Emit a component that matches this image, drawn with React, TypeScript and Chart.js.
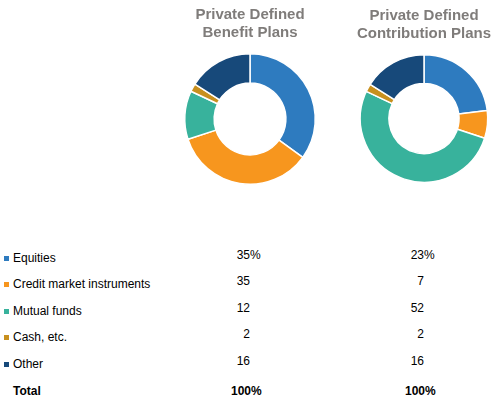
import { useEffect, useRef } from 'react';
import { Chart, registerables } from 'chart.js';

Chart.register(...registerables);

const categories = ['Equities', 'Credit market instruments', 'Mutual funds', 'Cash, etc.', 'Other'];
const benefitValues = [35, 35, 12, 2, 16];
const contributionValues = [23, 7, 52, 2, 16];
const benefitTitle = ['Private Defined', 'Benefit Plans'];
const contributionTitle = ['Private Defined', 'Contribution Plans'];
const totalLabel = 'Total';
const totalValue = 100;

const sliceColors = ['#2E7BBF', '#F7961E', '#38B29C', '#C8901E', '#17497A'];
const FONT = "'Liberation Sans', Arial, sans-serif";

const Donut = ({ title, values, left, top, height }: { title: string[]; values: number[]; left: number; top: number; height: number }) => {
  const canvasRef = useRef<HTMLCanvasElement>(null);
  const chartInstance = useRef<Chart<'doughnut', number[], string>>();

  useEffect(() => {
    const ctx = canvasRef.current?.getContext('2d');
    if (!ctx) return;

    chartInstance.current = new Chart(ctx, {
      type: 'doughnut',
      data: {
        labels: categories,
        datasets: [
          {
            data: values,
            backgroundColor: sliceColors,
            borderColor: '#ffffff',
            borderWidth: 1.5,
          },
        ],
      },
      options: {
        animation: false,
        responsive: false,
        cutout: '55%',
        layout: { padding: 0 },
        plugins: {
          legend: { display: false },
          tooltip: { enabled: false },
          title: {
            display: true,
            text: title,
            color: '#7F7C7A',
            font: { family: FONT, size: 15, weight: 'bold', lineHeight: 1.2 },
            padding: { top: 6, bottom: 11 },
          },
        },
      },
    });

    return () => {
      chartInstance.current?.destroy();
    };
  }, []);

  return (
    <canvas
      ref={canvasRef}
      width={170}
      height={height}
      style={{ position: 'absolute', left, top, width: 170, height }}
    />
  );
};

const rowTops = [258, 284, 311, 337, 364];

const ValueCell = ({ value, right, y, pct, bold }: { value: number; right: number; y: number; pct: boolean; bold?: boolean }) => (
  <div
    style={{
      position: 'absolute',
      left: right - 60,
      width: 60,
      top: y - 8,
      textAlign: 'right',
      fontWeight: bold ? 'bold' : 'normal',
    }}
  >
    {value}
    {pct && <span style={{ position: 'absolute', left: '100%' }}>%</span>}
  </div>
);

const App = () => {
  return (
    <div
      style={{
        position: 'fixed',
        left: 0,
        top: 0,
        width: 500,
        height: 405,
        background: '#fff',
        fontFamily: FONT,
        fontSize: 12,
        color: '#000',
        lineHeight: '16px',
      }}
    >
      <Donut title={benefitTitle} values={benefitValues} left={165} top={0} height={185} />
      <Donut title={contributionTitle} values={contributionValues} left={339} top={1} height={182} />

      {categories.map((c, i) => (
        <div key={c}>
          <div
            style={{
              position: 'absolute',
              left: 4,
              top: rowTops[i] - 2,
              width: 5,
              height: 5,
              background: sliceColors[i],
            }}
          />
          <div style={{ position: 'absolute', left: 13, top: rowTops[i] - 8 }}>{c}</div>
          <ValueCell value={benefitValues[i]} right={250} y={rowTops[i] - 3} pct={i === 0} />
          <ValueCell value={contributionValues[i]} right={424} y={rowTops[i] - 3} pct={i === 0} />
        </div>
      ))}

      <div style={{ position: 'absolute', left: 13, top: 383, fontWeight: 'bold' }}>{totalLabel}</div>
      <ValueCell value={totalValue} right={251} y={391} pct bold />
      <ValueCell value={totalValue} right={425} y={391} pct bold />
    </div>
  );
};

export default App;
